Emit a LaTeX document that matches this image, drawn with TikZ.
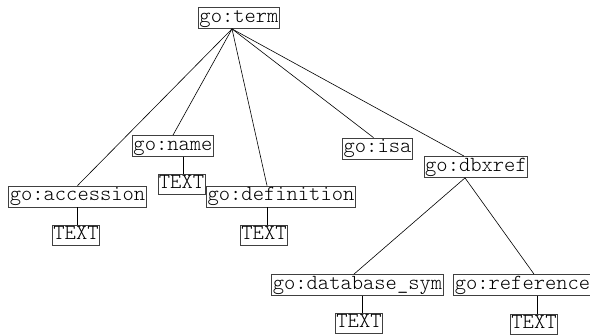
\documentclass[tikz,border=0pt]{standalone}
\usepackage{fontspec}
\setmonofont{Latin Modern Mono Light}
\begin{document}
\begin{tikzpicture}[x=1pt,y=1pt,
  elem/.style={draw=black!75, line width=0.8pt, fill=white,
    font=\ttfamily\fontsize{21.5}{22}\selectfont,
    inner xsep=1pt, inner ysep=0pt, minimum height=21pt,
    text height=11.5pt, text depth=3.5pt},
  leaf/.style={elem, minimum height=20pt},
  link/.style={draw=black, line width=0.6pt}]
\useasboundingbox (0,0) rectangle (590,-335);
% element boxes
\node[elem] (term) at (239,-18)    {go:term};
\node[elem] (name) at (173,-146)   {go:name};
\node[elem] (acc)  at (77.5,-196.5) {go:accession};
\node[elem] (def)  at (281,-196.5) {go:definition};
\node[elem] (isa)  at (377.5,-148.5) {go:isa};
\node[elem] (dbx)  at (476,-167)   {go:dbxref};
\node[elem] (dbs)  at (357.5,-285) {go:database\_sym};
\node[elem] (ref)  at (522.5,-285) {go:reference};
% text leaves
\node[leaf] (nameT) at (181.5,-184) {TEXT};
\node[leaf] (accT)  at (76,-235)    {TEXT};
\node[leaf] (defT)  at (264,-235.5) {TEXT};
\node[leaf] (dbsT)  at (359,-323.5) {TEXT};
\node[leaf] (refT)  at (534,-324)   {TEXT};
% children of go:term
\coordinate (tb) at ([xshift=-7pt]term.south);
\draw[link] (tb) -- (acc.north);
\draw[link] (tb) -- (name.north);
\draw[link] (tb) -- ([xshift=-14pt]def.north);
\draw[link] (tb) -- ([xshift=-4pt]isa.north);
\draw[link] (tb) -- ([xshift=-12pt]dbx.north);
% children of go:dbxref
\coordinate (db) at ([xshift=-11pt]dbx.south);
\draw[link] (db) -- ([xshift=-3.5pt]dbs.north);
\draw[link] (db) -- ([xshift=11.5pt]ref.north);
% text content links
\draw[link] ([xshift=-0.5pt]acc.south) -- ([xshift=-0.5pt]acc.south |- accT.north);
\draw[link] ([xshift=10pt]name.south) -- ([xshift=10pt]name.south |- nameT.north);
\draw[link] ([xshift=-14pt]def.south) -- ([xshift=-14pt]def.south |- defT.north);
\draw[link] ([xshift=4.5pt]dbs.south) -- ([xshift=4.5pt]dbs.south |- dbsT.north);
\draw[link] ([xshift=14.5pt]ref.south) -- ([xshift=14.5pt]ref.south |- refT.north);
\end{tikzpicture}
\end{document}
